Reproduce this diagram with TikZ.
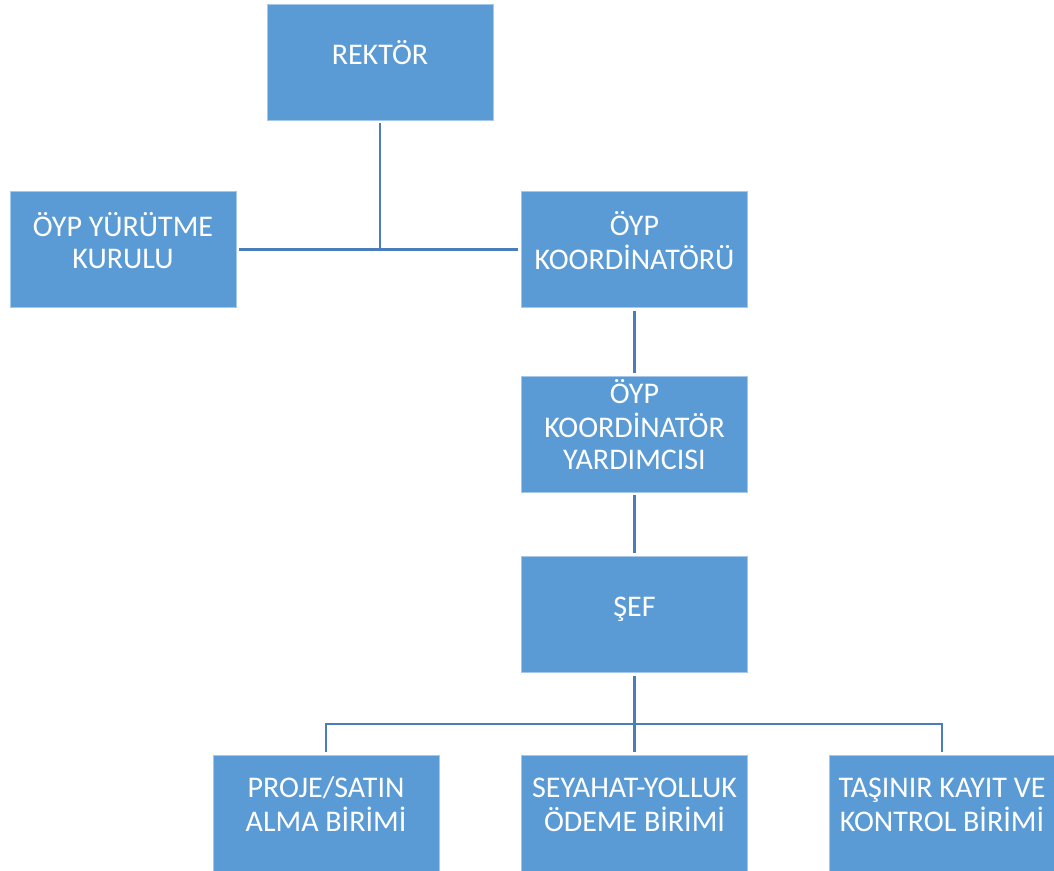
\documentclass[tikz,border=0pt]{standalone}
\usepackage{fontspec}
\setmainfont{Carlito}
\definecolor{unitblue}{RGB}{91,155,213}
\definecolor{linkblue}{RGB}{74,126,187}
\newcommand\unitname[1]{\begin{tabular}{@{}c@{}}#1\\[7pt]\end{tabular}}
\begin{document}
\begin{tikzpicture}[x=0.75pt,y=-0.75pt,
    unit/.style={rectangle,fill=unitblue,draw=unitblue!55!white,line width=0.4pt,
      minimum width=169.5pt,minimum height=87pt,inner sep=0pt,outer sep=2.5pt,
      text=white,font=\fontsize{22.5pt}{24pt}\selectfont},
    link/.style={draw=linkblue,line width=2pt}]
  \useasboundingbox (0,0) rectangle (1054,871);
  \draw
    (380,62) node[unit] (rektor){\unitname{REKTÖR}}
    (123,249.5) node[unit] (kurul){\unitname{ÖYP YÜRÜTME\\KURULU}}
    (634.5,249.5) node[unit] (koord){\unitname{ÖYP\\KOORDİNATÖRÜ}}
    (634.5,434) node[unit] (yard){\unitname{ÖYP\\KOORDİNATÖR\\YARDIMCISI}}
    (634.5,614.5) node[unit] (sef){\unitname{ŞEF}}
    (326,813) node[unit] (proje){\unitname{PROJE/SATIN\\ALMA BİRİMİ}}
    (634.5,813) node[unit] (seyahat){\unitname{SEYAHAT-YOLLUK\\ÖDEME BİRİMİ}}
    (942,813) node[unit] (tasinir){\unitname{TAŞINIR KAYIT VE\\KONTROL BİRİMİ}};
  \coordinate (bus) at (634.5,724);
  \begin{scope}[link]
    \draw (rektor.south) to (rektor.south |- kurul.east);
    \draw (kurul.east) to (koord.west);
    \draw (koord) to (yard);
    \draw (yard) to (sef);
    \draw (sef) to (bus);
    \draw (bus) to (seyahat);
    \draw (proje.north) to (proje.north |- bus) to (tasinir.north |- bus) to (tasinir.north);
  \end{scope}
\end{tikzpicture}
\end{document}
